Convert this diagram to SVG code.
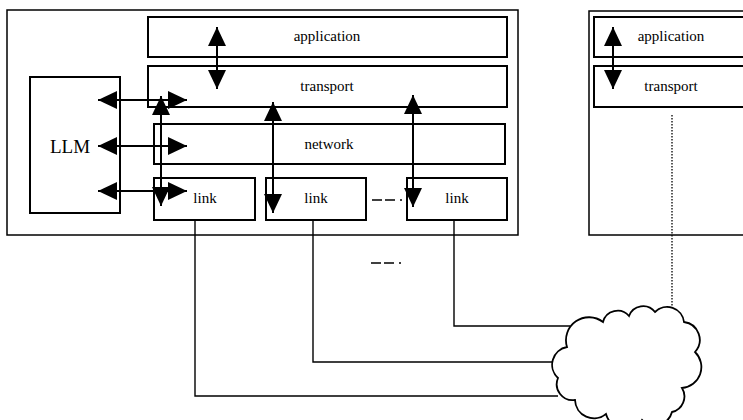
<svg xmlns="http://www.w3.org/2000/svg" width="743" height="420" viewBox="0 0 743 420">
<defs>
<marker id="ah" markerUnits="userSpaceOnUse" markerWidth="20" markerHeight="20" refX="19" refY="9" orient="auto-start-reverse" viewBox="0 0 20 18">
<path d="M0,0 L19,9 L0,18 Z" fill="#000"/>
</marker>
</defs>
<style>
.frame{fill:#fff;stroke:#000;stroke-width:1.5}
.box{fill:#fff;stroke:#000;stroke-width:2}
.lbl{font-family:"Liberation Serif","Times New Roman",serif;font-size:15px;text-anchor:middle;fill:#000}
.big{font-family:"Liberation Serif","Times New Roman",serif;font-size:19px;text-anchor:middle;fill:#000}
.arr{stroke:#000;stroke-width:2;fill:none;marker-start:url(#ah);marker-end:url(#ah)}
.wire{stroke:#000;stroke-width:1.4;fill:none}
.dash{stroke:#000;stroke-width:1.6;fill:none;stroke-dasharray:10 3 10 5 2 100}
.dot{stroke:#000;stroke-width:1.3;fill:none;stroke-dasharray:1.5 1.5}
</style>
<g id="host-left">
<rect class="frame" x="7" y="10" width="511" height="225"/>
</g>
<g id="host-right">
<rect class="frame" x="589" y="11" width="170" height="224"/>
</g>
<g id="application">
<rect class="box" x="148" y="17" width="359" height="40"/>
<text class="lbl" x="327" y="41">application</text>
</g>
<g id="transport">
<rect class="box" x="148" y="66" width="359" height="41"/>
<text class="lbl" x="327" y="91">transport</text>
</g>
<g id="network">
<rect class="box" x="154" y="124" width="351" height="40"/>
<text class="lbl" x="329" y="149">network</text>
</g>
<g id="link1">
<rect class="box" x="154" y="178" width="101" height="42"/>
<text class="lbl" x="205" y="203">link</text>
</g>
<g id="link2">
<rect class="box" x="266" y="178" width="100" height="42"/>
<text class="lbl" x="316" y="203">link</text>
</g>
<g id="link3">
<rect class="box" x="407" y="178" width="100" height="42"/>
<text class="lbl" x="457" y="203">link</text>
</g>
<g id="llm">
<rect class="box" x="30" y="77" width="90" height="136"/>
<text class="big" x="70" y="153">LLM</text>
</g>
<g id="application-right">
<rect class="box" x="594" y="17" width="160" height="40"/>
<text class="lbl" x="671" y="41">application</text>
</g>
<g id="transport-right">
<rect class="box" x="594" y="66" width="160" height="41"/>
<text class="lbl" x="671" y="91">transport</text>
</g>
<g id="cloud">
<path d="M567,347 A23,23 0 0 1 603,322 A15,15 0 0 1 629,316 A15,15 0 0 1 655,312 A17,17 0 0 1 684,322 A18,18 0 0 1 695,352 A21,21 0 0 1 682,388 A16,16 0 0 1 672,412 A18,18 0 0 1 642,420 A20,20 0 0 1 606,414 A19,19 0 0 1 575,400 A16,16 0 0 1 558,378 A18,18 0 0 1 567,347 Z" fill="#fff" stroke="#000" stroke-width="1.8"/>
</g>
<g id="connectors">
<line class="arr" x1="217" y1="27" x2="217" y2="89"/>
<line class="arr" x1="613" y1="27" x2="613" y2="89"/>
<line class="arr" x1="98" y1="100" x2="187" y2="100"/>
<line class="arr" x1="98" y1="146" x2="187" y2="146"/>
<line class="arr" x1="98" y1="191" x2="187" y2="191"/>
<line class="arr" x1="161" y1="96" x2="161" y2="206"/>
<line class="arr" x1="273" y1="102" x2="273" y2="213"/>
<line class="arr" x1="413" y1="95" x2="413" y2="207"/>
<line class="dash" x1="372" y1="200" x2="403" y2="200"/>
<line class="dash" x1="371" y1="263" x2="402" y2="263"/>
<polyline class="wire" points="195,220 195,396 558,396"/>
<polyline class="wire" points="313,220 313,362 553,362"/>
<polyline class="wire" points="454,220 454,326 570,326"/>
<line class="dot" x1="672" y1="115" x2="672" y2="306"/>
</g>
</svg>
